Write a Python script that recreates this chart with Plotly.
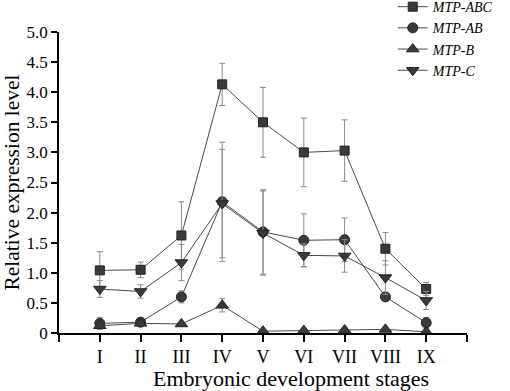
import plotly.graph_objects as go

stages = ["I", "II", "III", "IV", "V", "VI", "VII", "VIII", "IX"]
xpos = [1, 2, 3, 4, 5, 6, 7, 8, 9]

abc = [1.04, 1.05, 1.62, 4.13, 3.50, 3.00, 3.03, 1.40, 0.73]
abc_err = [0.31, 0.13, 0.56, 0.35, 0.58, 0.57, 0.51, 0.27, 0.11]

ab = [0.16, 0.18, 0.60, 2.18, 1.68, 1.54, 1.55, 0.60, 0.17]
ab_err = [0.10, 0.05, 0.10, 0.99, 0.70, 0.44, 0.36, 0.05, 0.09]

b = [0.12, 0.16, 0.15, 0.46, 0.03, 0.04, 0.05, 0.06, 0.02]
b_err = [0.03, 0.03, 0.02, 0.11, 0.02, 0.02, 0.02, 0.02, 0.02]

c = [0.73, 0.69, 1.17, 2.15, 1.66, 1.29, 1.28, 0.92, 0.54]
c_err = [0.14, 0.11, 0.30, 0.90, 0.70, 0.19, 0.27, 0.28, 0.15]

series = [
    ("MTP-ABC", abc, abc_err, "square", 9),
    ("MTP-AB", ab, ab_err, "circle", 10),
    ("MTP-B", b, b_err, "triangle-up", 11),
    ("MTP-C", c, c_err, "triangle-down", 11),
]

FONT = "Liberation Serif"
fig = go.Figure()
for name, vals, errs, sym, sz in series:
    fig.add_trace(go.Scatter(
        x=xpos, y=vals, name="<i>%s</i>" % name, mode="lines+markers",
        line=dict(color="#4a4a4a", width=1),
        marker=dict(symbol=sym, size=sz, color="#3a3a3a",
                    line=dict(color="#222222", width=1)),
        error_y=dict(type="data", array=errs, visible=True,
                     color="#8a8a8a", thickness=1, width=3),
    ))

fig.update_layout(
    width=510, height=391,
    margin=dict(l=59, r=43, t=32, b=58, autoexpand=False),
    paper_bgcolor="white", plot_bgcolor="white",
    font=dict(family=FONT, color="black", size=16),
    showlegend=True,
    legend=dict(x=0.818, y=1.136, xanchor="left", yanchor="top",
                font=dict(family=FONT, size=14), bgcolor="rgba(0,0,0,0)",
                itemwidth=30, tracegroupgap=0),
    xaxis=dict(range=[0, 10], tickmode="array",
               tickvals=list(range(0, 11)),
               ticktext=[""] + stages + [""],
               showline=True, linecolor="black", linewidth=1.5,
               ticks="outside", ticklen=7, tickwidth=1.5, tickcolor="black",
               showgrid=False, zeroline=False,
               tickfont=dict(family=FONT, size=18)),
    yaxis=dict(range=[0, 5], tickmode="array",
               tickvals=[0, 0.5, 1, 1.5, 2, 2.5, 3, 3.5, 4, 4.5, 5],
               ticktext=["0", "0.5", "1.0", "1.5", "2.0", "2.5", "3.0",
                         "3.5", "4.0", "4.5", "5.0"],
               showline=True, linecolor="black", linewidth=1.5,
               ticks="outside", ticklen=6, tickwidth=1.5, tickcolor="black",
               showgrid=False, zeroline=False,
               tickfont=dict(family=FONT, size=17),
               title=dict(text="Relative expression level",
                          font=dict(family=FONT, size=21.5), standoff=5)),
    annotations=[dict(text="Embryonic development stages", xref="paper",
                      yref="paper", x=(291 - 59) / 408, y=-0.15,
                      xanchor="center", yanchor="middle", showarrow=False,
                      font=dict(family=FONT, size=22))],
)

fig.write_html("out.html", config={"displayModeBar": False},
               post_script="document.body.style.margin='0';")
